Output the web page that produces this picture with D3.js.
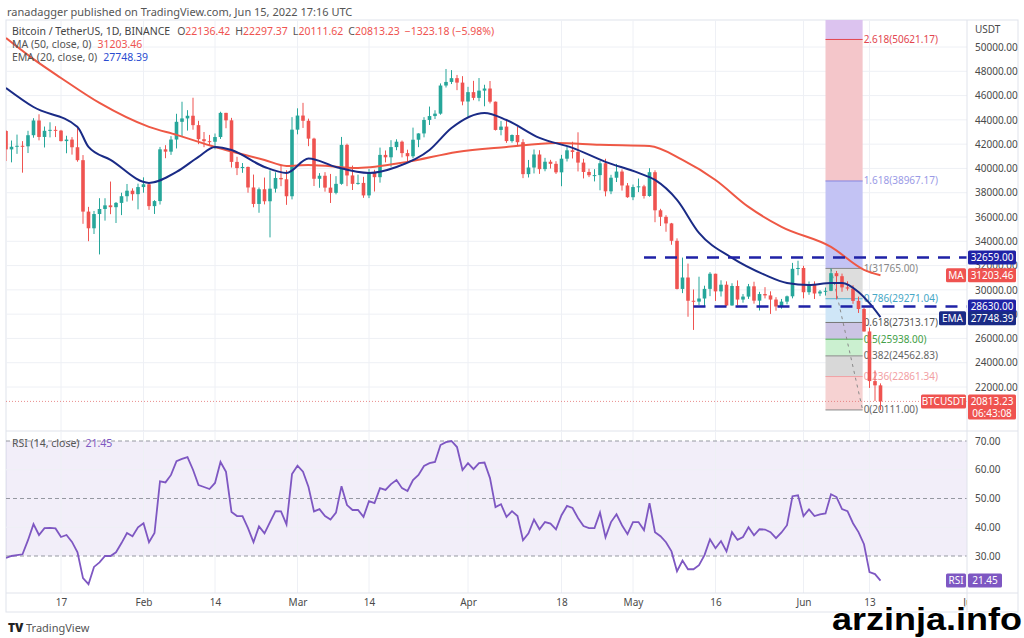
<!DOCTYPE html>
<html>
<head>
<meta charset="utf-8">
<script src="https://cdn.jsdelivr.net/npm/d3@7"></script>
<style>
  body { margin: 0; background: #fff; }
  svg { display: block; font-family: "Noto Sans", "Open Sans", sans-serif; }
</style>
</head>
<body>
<svg id="chart"></svg>
<script>
// daily candles, BTC/USDT, 7 Jan -> 15 Jun 2022
const firstDay = "2022-01-07"
const lastDay = "2022-06-15"

const opens = [
  43082,41567,41785,41865,41822,42736,43949,42592,43099,43177,43113,42250,42375,41744,40680,36445,35071,36244,36660,36958,36809,37161,37712,38166,37881,
  38466,38694,36896,37311,41574,41382,42380,43840,44118,44338,43565,42407,42244,42197,42586,44575,43961,40538,40030,40122,38431,37075,38286,37296,38332,39214,39105,37709,
  43193,44354,43924,42454,39148,39397,38420,37988,38730,41941,39422,38729,38807,37777,39671,39280,41114,40917,41757,42201,41262,41002,42364,42882,43991,44313,44511,46827,47122,47434,47067,
  45510,46283,45811,46407,46580,45497,43170,43444,42252,42753,42158,39530,40074,41147,39942,40552,40378,39678,40801,41493,41358,40480,39709,39441,39450,40426,38112,39235,39742,38596,
  37630,38468,38525,37728,39690,36552,36013,35472,34039,30076,31017,29103,29030,29287,30080,31328,29875,30424,28715,30319,29201,29445,30293,29110,29655,29542,29201,28630,29031,29468,31734,
  31802,29805,30452,29700,29865,29920,31373,31125,30204,30109,29091,28424,26574,22487,22136.42
]
const highs = [
  43145,42300,42786,42248,43100,44135,44458,43448,43800,43478,43176,42691,42578,43505,41100,36835,36499,37550,37545,38919,37234,38000,38720,38359,38744,
  39265,38855,37387,41772,41913,42656,44500,45492,44798,45821,43921,43000,42760,42876,44667,44582,44164,40959,40444,40150,39494,38429,39249,39843,39683,40300,39855,44225,
  44950,45400,44101,42527,39613,39693,39547,39362,42594,42039,40236,39486,39310,39947,39887,41718,41478,42325,42400,42296,41544,43361,42893,44220,45094,44792,46999,48190,48096,47700,47600,
  46720,47213,47444,46890,47200,45507,43900,43970,42800,43410,42414,40699,41561,41500,40870,40709,40595,41116,41760,42199,42976,40795,39980,39940,40616,40797,39474,40372,39925,38795,
  38675,39167,38651,40023,39845,36675,36146,35514,34243,32658,32162,30033,31083,30343,31460,31328,30788,30700,30545,30777,29656,30487,30670,29835,30223,29879,29398,29251,29530,32222,32399,
  31982,30689,30699,29988,30189,31765,31557,31339,30700,30383,29440,28544,26895,23362,22297.37
]
const lows = [
  40610,40501,41200,39650,41268,42528,42311,41725,42555,42581,42222,41250,41138,40553,35440,34008,34601,32917,35701,36234,35507,36155,37268,37351,36633,
  38000,36586,36250,37026,40843,41116,41645,42666,43117,43188,42000,41748,41870,41570,42428,43310,40073,39450,39639,38000,36800,36350,37036,34322,38014,38540,37000,37450,
  42809,43334,41832,38550,38407,38088,37155,37867,38656,38540,38223,38660,37578,37555,38098,38828,40500,40135,41499,40911,40467,40840,41751,42560,43579,44071,44422,46664,46950,46445,45200,
  44200,45620,45530,45118,45353,43121,42727,42107,42125,41868,39200,39254,39588,39551,39766,39992,39546,38536,40571,40820,39751,39177,39285,38929,38200,37702,37881,38881,38175,37578,
  37386,38052,37517,37670,35571,35258,34785,33714,30033,29730,27785,26700,28751,28630,29480,29087,29450,28654,28694,28730,28947,29255,28866,28300,29294,28019,28282,28450,28810,29300,31200,
  29301,29594,29250,29485,29531,29890,29218,29843,29944,28850,28099,26560,21925,20846,20111.62
]
const closes = [
  41567,41785,41865,41822,42736,43949,42592,43099,43177,43113,42250,42375,41744,40680,36445,35071,36244,36660,36958,36809,37161,37712,38166,37881,38466,
  38694,36896,37311,41574,41382,42380,43840,44118,44338,43565,42407,42244,42197,42586,44575,43961,40538,40030,40122,38431,37075,38286,37296,38332,39214,39105,37709,43193,
  44354,43924,42454,39148,39397,38420,37988,38730,41941,39422,38729,38807,37777,39671,39280,41114,40917,41757,42201,41262,41002,42364,42882,43991,44313,44511,46827,47122,47434,47067,45510,
  46283,45811,46407,46580,45497,43170,43444,42252,42753,42158,39530,40074,41147,39942,40552,40378,39678,40801,41493,41358,40480,39709,39441,39450,40426,38112,39235,39742,38596,37630,
  38468,38525,37728,39690,36552,36013,35472,34039,30076,31017,29103,29030,29287,30080,31328,29875,30424,28715,30319,29201,29445,30293,29110,29655,29542,29201,28630,29031,29468,31734,31802,
  29805,30452,29700,29865,29920,31373,31125,30204,30109,29091,28424,26574,22487,22136,20813.23
]
const rsiValues = [
  29.3,30.0,30.3,30.6,35.5,41.1,37.3,39.7,39.8,39.6,36.6,37.3,34.9,31.3,22.3,20.2,26.2,27.8,30.0,30.0,31.3,34.5,38.0,36.9,40.0,
  41.4,34.8,38.0,56.0,55.6,58.2,63.0,63.8,64.4,60.0,54.7,54.0,53.3,55.4,62.7,59.3,45.3,43.9,43.9,39.7,34.8,40.3,37.9,41.8,45.6,45.5,41.0,58.5,
  61.4,59.3,54.0,45.5,46.3,43.9,42.7,45.1,54.3,47.7,46.0,46.0,43.6,49.1,48.4,53.6,53.0,55.0,56.4,53.6,52.6,56.4,58.2,61.3,62.3,62.7,68.6,69.6,70.0,67.9,59.9,
  62.3,60.2,62.3,62.5,57.1,47.0,48.0,43.6,45.6,43.9,35.5,37.9,42.7,39.3,41.8,41.3,39.3,44.2,47.4,46.7,43.2,40.4,39.7,39.7,45.1,36.5,41.8,44.5,40.7,37.6,
  41.8,41.8,39.0,48.4,38.3,36.9,34.8,31.6,24.7,28.4,25.4,25.4,26.8,30.3,35.8,32.7,35.2,31.6,38.3,35.6,36.6,40.0,37.2,39.3,39.2,38.3,36.2,38.2,40.7,50.8,51.1,
  43.9,46.2,43.9,44.5,44.8,51.5,50.5,46.3,45.6,41.4,38.3,34.1,24.4,23.7,21.45
]

// moving averages
const maDates = ["2022-01-07","2022-01-12","2022-01-17","2022-01-24","2022-02-02","2022-02-07","2022-02-14","2022-02-23","2022-02-27","2022-03-03","2022-03-12","2022-03-21","2022-03-30","2022-04-08","2022-04-17","2022-04-25","2022-05-04","2022-05-10","2022-05-16","2022-05-22","2022-05-28","2022-06-06","2022-06-12","2022-06-15"]
const maValues = [50740,49000,47450,45390,43420,42760,41770,40700,40210,40290,40040,40540,41360,41770,42100,41940,41850,40700,39050,36830,35190,33540,31650,31203.46]
const emaDates = ["2022-01-07","2022-01-12","2022-01-20","2022-01-22","2022-01-26","2022-02-02","2022-02-07","2022-02-11","2022-02-14","2022-02-17","2022-02-23","2022-02-27","2022-03-03","2022-03-08","2022-03-14","2022-03-19","2022-03-25","2022-03-29","2022-04-04","2022-04-08","2022-04-14","2022-04-20","2022-04-26","2022-05-02","2022-05-05","2022-05-09","2022-05-13","2022-05-19","2022-05-25","2022-05-29","2022-06-02","2022-06-06","2022-06-08","2022-06-11","2022-06-13","2022-06-15"]
const emaValues = [46630,45060,43420,41770,40700,38810,39710,40950,41770,41520,40120,39630,40820,40120,39630,40120,41520,43330,44570,43990,42510,41690,40540,39630,39050,37410,34690,32630,31230,30570,30410,30570,30570,29830,28900,27748.39]

// fibonacci retracement
const fibRatios = ["0","0.236","0.382","0.5","0.618","0.786","1","1.618","2.618"]
const fibPrices = [20111.00,22861.34,24562.83,25938.00,27313.17,29271.04,31765.00,38967.17,50621.17]
const fibStart = "2022-06-05T00:00Z"
const fibEnd = "2022-06-11T18:00Z"
const fibTrendStart = "2022-06-06T00:00Z"

// horizontal levels
const levelPrices = [32659.00, 28630.00]
const levelStarts = ["2022-05-03", "2022-05-12"]

const priceTicks = [22000,24000,26000,28000,30000,32000,34000,36000,38000,40000,42000,44000,46000,48000,50000]
const rsiTicks = [30,40,50,60,70]
const timeTickDates = ["2022-01-17","2022-02-01","2022-02-14","2022-03-01","2022-03-14","2022-04-01","2022-04-18","2022-05-01","2022-05-16","2022-06-01","2022-06-13","2022-07-01"]
const timeTickLabels = ["17","Feb","14","Mar","14","Apr","18","May","16","Jun","13","Jul"]

let width = 1024
let height = 638
let left = 6, right = 967
let mainTop = 20, mainBottom = 431
let rsiTop = 432, rsiBottom = 593
let frameBottom = 612

const up = "#26a69a", down = "#ef5350"
const maColor = "#ee5845", emaColor = "#1a2b86", rsiColor = "#7e57c2"
const levelColor = "#1f22a6"
const gridColor = "#eef0f5", borderColor = "#e0e3eb", textColor = "#4a4a4a"

let svg = d3.select("#chart").attr("width", width).attr("height", height)
svg.append("rect").attr("width", width).attr("height", height).attr("fill", "#fff")

let days = d3.utcDay.range(new Date(firstDay), d3.utcDay.offset(new Date(lastDay), 1))
let data = days.map((d, i) => ({ date: d, o: opens[i], h: highs[i], l: lows[i], c: closes[i], rsi: rsiValues[i] }))

let xScale = d3.scaleUtc()
  .domain([new Date("2022-01-17"), new Date("2022-07-01")])
  .range([61, 61 + 165 * 5.5])
let yScale = d3.scaleLinear().domain([22000, 50000]).range([387, 47])
let rsiScale = d3.scaleLinear().domain([30, 70]).range([556, 441])

let defs = svg.append("defs")
defs.append("clipPath").attr("id", "clipMain").append("rect")
  .attr("x", left).attr("y", mainTop).attr("width", right - left).attr("height", mainBottom - mainTop)
defs.append("clipPath").attr("id", "clipRsi").append("rect")
  .attr("x", left).attr("y", rsiTop).attr("width", right - left).attr("height", rsiBottom - rsiTop)
defs.append("clipPath").attr("id", "clipTime").append("rect")
  .attr("x", left).attr("y", rsiBottom).attr("width", right - left).attr("height", frameBottom - rsiBottom)

// header
svg.append("text").attr("x", 7).attr("y", 16)
  .attr("font-size", 11).attr("fill", "#555")
  .text("ranadagger published on TradingView.com, Jun 15, 2022 17:16 UTC")

// frame
svg.append("rect").attr("x", left).attr("y", mainTop).attr("width", 1018 - left).attr("height", frameBottom - mainTop)
  .attr("fill", "none").attr("stroke", borderColor)

// ---------- main pane ----------
let main = svg.append("g").attr("clip-path", "url(#clipMain)")

main.selectAll(".hgrid").data(priceTicks).enter().append("line")
  .attr("x1", left).attr("x2", right)
  .attr("y1", d => yScale(d)).attr("y2", d => yScale(d))
  .attr("stroke", gridColor)
main.selectAll(".vgrid").data(timeTickDates).enter().append("line")
  .attr("x1", d => xScale(new Date(d))).attr("x2", d => xScale(new Date(d)))
  .attr("y1", mainTop).attr("y2", mainBottom)
  .attr("stroke", gridColor)

// fib bands, bottom band first, the last one runs up to the top of the pane
const fibFill = ["#f6d2d2","#d8d8d8","#cbf0d0","#ccc4e4","#cfe6f7","#dddddd","#c3c3f4","#f4c6ca","#dcc3ef"]
const fibLine = ["#8a8a8a","#f0a3a6","#8a8a8a","#4caf50","#777","#5ab2cf","#8a8a8a","#8484e0","#e2454f"]
const fibText = ["#666","#f2a0a3","#666","#43a047","#555","#47a8c6","#888","#9a9ae6","#e2454f"]
let fx0 = xScale(new Date(fibStart)), fx1 = xScale(new Date(fibEnd))
fibPrices.forEach((p, i) => {
  let top = i < fibPrices.length - 1 ? yScale(fibPrices[i + 1]) : mainTop
  main.append("rect")
    .attr("x", fx0).attr("width", fx1 - fx0)
    .attr("y", top).attr("height", yScale(p) - top)
    .attr("fill", fibFill[i])
})
main.selectAll(".fibline").data(fibPrices).enter().append("line")
  .attr("x1", fx0).attr("x2", fx1)
  .attr("y1", d => yScale(d)).attr("y2", d => yScale(d))
  .attr("stroke", (d, i) => fibLine[i]).attr("stroke-width", 1)
main.selectAll(".fiblabel").data(fibPrices).enter().append("text")
  .attr("x", fx1 + 1).attr("y", d => yScale(d)).attr("dy", "0.35em")
  .attr("font-size", 10).attr("fill", (d, i) => fibText[i])
  .text((d, i) => fibRatios[i] + "(" + d3.format(".2f")(d) + ")")
main.append("line")
  .attr("x1", xScale(new Date(fibTrendStart))).attr("y1", yScale(fibPrices[6]))
  .attr("x2", fx1).attr("y2", yScale(fibPrices[0]))
  .attr("stroke", "#8a8a8a").attr("stroke-width", 1).attr("stroke-dasharray", "3,4")

// last price dotted line
main.append("line")
  .attr("x1", left).attr("x2", right)
  .attr("y1", yScale(closes[closes.length - 1])).attr("y2", yScale(closes[closes.length - 1]))
  .attr("stroke", "#e57373").attr("stroke-dasharray", "1,2").attr("opacity", 0.8)

// candles
let candles = main.selectAll(".candle").data(data).enter().append("g")
candles.append("line")
  .attr("x1", d => xScale(d.date)).attr("x2", d => xScale(d.date))
  .attr("y1", d => yScale(d.h)).attr("y2", d => yScale(d.l))
  .attr("stroke", d => d.c >= d.o ? up : down).attr("stroke-width", 1)
candles.append("rect")
  .attr("x", d => xScale(d.date) - 1.8).attr("width", 3.6)
  .attr("y", d => yScale(Math.max(d.o, d.c)))
  .attr("height", d => Math.max(1, Math.abs(yScale(d.o) - yScale(d.c))))
  .attr("fill", d => d.c >= d.o ? up : down)

// MA and EMA
let lineGen = d3.line().x(d => xScale(d[0])).y(d => yScale(d[1])).curve(d3.curveMonotoneX)
main.append("path")
  .attr("d", lineGen(maDates.map((d, i) => [new Date(d), maValues[i]])))
  .attr("fill", "none").attr("stroke", maColor).attr("stroke-width", 2)
main.append("path")
  .attr("d", lineGen(emaDates.map((d, i) => [new Date(d), emaValues[i]])))
  .attr("fill", "none").attr("stroke", emaColor).attr("stroke-width", 2)

// dashed horizontal levels
main.selectAll(".level").data(levelPrices).enter().append("line")
  .attr("x1", (d, i) => xScale(new Date(levelStarts[i]))).attr("x2", right)
  .attr("y1", d => yScale(d)).attr("y2", d => yScale(d))
  .attr("stroke", levelColor).attr("stroke-width", 2.5).attr("stroke-dasharray", "12,9")

// legend
let leg = svg.append("g").attr("font-size", 10.5)
let l1 = leg.append("text").attr("x", 12).attr("y", 35).attr("fill", "#444")
l1.append("tspan").text("Bitcoin / TetherUS, 1D, BINANCE")
const ohlcNames = ["O", "H", "L", "C"]
const ohlcVals = [opens[opens.length - 1], highs[highs.length - 1], lows[lows.length - 1], closes[closes.length - 1]]
ohlcNames.forEach((n, i) => {
  l1.append("tspan").attr("dx", i === 0 ? 7 : 5).attr("fill", "#555").text(n)
  l1.append("tspan").attr("fill", down).text(d3.format(".2f")(ohlcVals[i]))
})
l1.append("tspan").attr("dx", 5).attr("fill", down).text("−1323.18 (−5.98%)")
let l2 = leg.append("text").attr("x", 12).attr("y", 48).attr("fill", "#555")
l2.append("tspan").text("MA (50, close, 0)")
l2.append("tspan").attr("dx", 6).attr("fill", down).text("31203.46")
let l3 = leg.append("text").attr("x", 12).attr("y", 61).attr("fill", "#555")
l3.append("tspan").text("EMA (20, close, 0)")
l3.append("tspan").attr("dx", 6).attr("fill", "#2a4bd0").text("27748.39")

// ---------- RSI pane ----------
let rsiG = svg.append("g").attr("clip-path", "url(#clipRsi)")
rsiG.append("rect")
  .attr("x", left).attr("width", right - left)
  .attr("y", rsiScale(70)).attr("height", rsiScale(30) - rsiScale(70))
  .attr("fill", "#7e57c2").attr("opacity", 0.1)
rsiG.selectAll(".vgrid").data(timeTickDates).enter().append("line")
  .attr("x1", d => xScale(new Date(d))).attr("x2", d => xScale(new Date(d)))
  .attr("y1", rsiTop).attr("y2", rsiBottom)
  .attr("stroke", gridColor)
rsiG.selectAll(".rgrid").data([40, 60]).enter().append("line")
  .attr("x1", left).attr("x2", right)
  .attr("y1", d => rsiScale(d)).attr("y2", d => rsiScale(d))
  .attr("stroke", gridColor)
rsiG.selectAll(".rband").data([30, 50, 70]).enter().append("line")
  .attr("x1", left).attr("x2", right)
  .attr("y1", d => rsiScale(d)).attr("y2", d => rsiScale(d))
  .attr("stroke", "#9598a1").attr("stroke-dasharray", "4,3").attr("stroke-width", 1)
rsiG.append("path")
  .attr("d", d3.line().x(d => xScale(d.date)).y(d => rsiScale(d.rsi))(data))
  .attr("fill", "none").attr("stroke", rsiColor).attr("stroke-width", 1.8)

let rl = svg.append("text").attr("x", 12).attr("y", 447).attr("font-size", 10.5).attr("fill", "#555")
rl.append("tspan").text("RSI (14, close)")
rl.append("tspan").attr("dx", 6).attr("fill", rsiColor).text("21.45")

// separators
svg.append("line").attr("x1", left).attr("x2", 1018).attr("y1", mainBottom).attr("y2", mainBottom).attr("stroke", borderColor)
svg.append("line").attr("x1", left).attr("x2", 1018).attr("y1", rsiBottom).attr("y2", rsiBottom).attr("stroke", borderColor)
svg.append("line").attr("x1", right).attr("x2", right).attr("y1", mainTop).attr("y2", frameBottom).attr("stroke", borderColor)

// ---------- axes ----------
let yAxis = d3.axisRight(yScale).tickValues(priceTicks).tickFormat(d3.format(".2f")).tickSize(0).tickPadding(8)
let yAxisG = svg.append("g").attr("transform", "translate(" + right + ",0)").call(yAxis)
yAxisG.select(".domain").remove()
yAxisG.selectAll("text").attr("font-size", 10).attr("fill", textColor).attr("font-family", "Noto Sans")

svg.append("text").attr("x", 975).attr("y", 33).attr("font-size", 10).attr("fill", textColor).text("USDT")

let rAxis = d3.axisRight(rsiScale).tickValues(rsiTicks).tickFormat(d3.format(".2f")).tickSize(0).tickPadding(8)
let rAxisG = svg.append("g").attr("transform", "translate(" + right + ",0)").call(rAxis)
rAxisG.select(".domain").remove()
rAxisG.selectAll("text").attr("font-size", 10).attr("fill", textColor).attr("font-family", "Noto Sans")

let xAxis = d3.axisBottom(xScale)
  .tickValues(timeTickDates.map(d => new Date(d)))
  .tickFormat((d, i) => timeTickLabels[i]).tickSize(0).tickPadding(6)
let xAxisG = svg.append("g").attr("clip-path", "url(#clipTime)")
  .append("g").attr("transform", "translate(0," + rsiBottom + ")").call(xAxis)
xAxisG.select(".domain").remove()
xAxisG.selectAll("text").attr("font-size", 10).attr("fill", textColor).attr("font-family", "Noto Sans")

// ---------- price tags ----------
function tag(x, y, w, h, fill, label) {
  let g = svg.append("g")
  g.append("rect").attr("x", x).attr("y", y - h / 2).attr("width", w).attr("height", h).attr("rx", 1.5).attr("fill", fill)
  label.forEach((t, i) => {
    g.append("text").attr("x", x + w / 2).attr("y", y - h / 2 + 7 + i * 12).attr("dy", "0.35em")
      .attr("text-anchor", "middle").attr("font-size", 10).attr("fill", "#fff").text(t)
  })
}
tag(968, yScale(levelPrices[0]), 48, 14, levelColor, [d3.format(".2f")(levelPrices[0])])
tag(946, yScale(maValues[maValues.length - 1]), 20, 14, down, ["MA"])
tag(968, yScale(maValues[maValues.length - 1]), 48, 14, down, [d3.format(".2f")(maValues[maValues.length - 1])])
tag(968, yScale(levelPrices[1]), 48, 14, levelColor, [d3.format(".2f")(levelPrices[1])])
tag(939, yScale(emaValues[emaValues.length - 1]) + 1, 27, 14, emaColor, ["EMA"])
tag(968, yScale(emaValues[emaValues.length - 1]) + 1, 48, 14, emaColor, [d3.format(".2f")(emaValues[emaValues.length - 1])])
tag(921, yScale(closes[closes.length - 1]), 45, 14, down, ["BTCUSDT"])
tag(968, yScale(closes[closes.length - 1]) + 5.5, 48, 25, down, [d3.format(".2f")(closes[closes.length - 1]), "06:43:08"])
tag(946, rsiScale(rsiValues[rsiValues.length - 1]), 20, 14, rsiColor, ["RSI"])
tag(968, rsiScale(rsiValues[rsiValues.length - 1]), 34, 14, rsiColor, [d3.format(".2f")(rsiValues[rsiValues.length - 1])])

// ---------- footer ----------
svg.append("text").attr("x", 8).attr("y", 632).attr("font-size", 12).attr("font-weight", 900)
  .attr("fill", "#222").text("TV")
svg.append("text").attr("x", 26).attr("y", 632).attr("font-size", 11).attr("fill", "#555").text("TradingView")

// watermark
svg.append("text").attr("x", 832).attr("y", 630)
  .attr("font-family", "Liberation Sans, Arial, sans-serif").attr("font-weight", 900)
  .attr("font-size", 32).attr("textLength", 190).attr("lengthAdjust", "spacingAndGlyphs")
  .attr("fill", "#000").attr("stroke", "#fff").attr("stroke-width", 2).attr("paint-order", "stroke")
  .text("arzinja.info")
</script>
</body>
</html>
